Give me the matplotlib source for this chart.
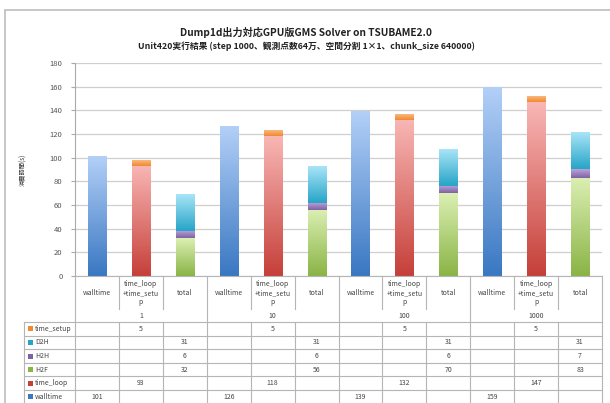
import numpy as np
import matplotlib
matplotlib.use("Agg")
import matplotlib.pyplot as plt
from matplotlib.colors import LinearSegmentedColormap
from matplotlib.transforms import blended_transform_factory
from matplotlib.patches import Rectangle

plt.rcParams['font.family'] = ['Noto Sans CJK JP', 'DejaVu Sans']

# data
groups = ['1', '10', '100', '1000']
categories = ['walltime', 'time_loop\n+time_setu\np', 'total']
walltime = [101, 126, 139, 159]
time_loop = [93, 118, 132, 147]
time_setup = [5, 5, 5, 5]
h2f = [32, 56, 70, 83]
h2h = [6, 6, 6, 7]
d2h = [31, 31, 31, 31]

# (name, values, category index, bottom colour, top colour)
series = [
    ('walltime', walltime, 0, '#3a78c2', '#b2cff7'),
    ('time_loop', time_loop, 1, '#c6403a', '#f8b6b4'),
    ('time_setup', time_setup, 1, '#ee8a30', '#fbb77e'),
    ('H2F', h2f, 2, '#8ab446', '#dbefb2'),
    ('H2H', h2h, 2, '#7f62a6', '#baa4d8'),
    ('D2H', d2h, 2, '#27a5c8', '#a8e4f7'),
]
table_order = ['time_setup', 'D2H', 'H2H', 'H2F', 'time_loop', 'walltime']

W, H = 610, 403
fig = plt.figure(figsize=(W / 100, H / 100), dpi=100)
fig.patch.set_facecolor('white')
ax = fig.add_axes([75 / W, 1 - 276 / H, 527 / W, 213 / H])

ncat = len(categories)
nbars = len(groups) * ncat
bar_w = 0.41

# stacked bars with vertical gradient fill
bottoms = np.zeros(nbars)
for name, vals, ci, c_bot, c_top in series:
    xs = [g * ncat + ci for g in range(len(groups))]
    cmap = LinearSegmentedColormap.from_list(name, [c_bot, c_top])
    grad = np.linspace(0, 1, 64).reshape(-1, 1)
    for x, v in zip(xs, vals):
        b = bottoms[x]
        ax.imshow(grad, cmap=cmap, extent=(x - bar_w / 2, x + bar_w / 2, b, b + v),
                  aspect='auto', origin='lower', zorder=3, interpolation='bilinear')
        bottoms[x] += v

ax.set_xlim(-0.5, nbars - 0.5)
ax.set_ylim(0, 180)
ax.set_yticks(range(0, 181, 20))
ax.tick_params(axis='y', labelsize=5.5, labelcolor='#555555', color='#aaaaaa',
               length=3, width=0.8, pad=6)
ax.set_xticks([])
ax.grid(axis='y', color='#cfcfcf', linewidth=0.9, zorder=0)
for s in ['top', 'right', 'bottom']:
    ax.spines[s].set_visible(False)
ax.spines['left'].set_color('#aaaaaa')
ax.set_ylabel('消費時間(s)', fontsize=4.5, color='#333333', labelpad=16)

# title
fig.text(0.502, 1 - 32 / H, 'Dump1d出力対応GPU版GMS Solver on TSUBAME2.0',
         ha='center', va='center', fontsize=7.3, fontweight='bold', color='#222222')
fig.text(0.502, 1 - 46 / H, 'Unit420実行結果 (step 1000、観測点数64万、空間分割 1×1、chunk_size 640000)',
         ha='center', va='center', fontsize=6.3, fontweight='bold', color='#222222')

# outer chart border
fig.patches.append(Rectangle((5 / W, -0.05), 1.2, 1 - 10 / H + 0.05,
                             transform=fig.transFigure, fill=False,
                             edgecolor='#bdbdbd', linewidth=1.2))

# data table below the axis
tr = blended_transform_factory(ax.transData, fig.transFigure)
line_c = '#b5b5b5'
txt_c = '#444444'


def fy(py):
    return 1 - py / H


def vline(x, y0, y1, transform=tr):
    fig.add_artist(plt.Line2D([x, x], [fy(y0), fy(y1)], transform=transform,
                              color=line_c, linewidth=0.8))


def hline(x0, x1, y, transform=tr):
    fig.add_artist(plt.Line2D([x0, x1], [fy(y), fy(y)], transform=transform,
                              color=line_c, linewidth=0.8))


axis_y = 276
grp_y = 309
row_top = 322
row_h = 13.6
bottom_y = 410

# x axis line
hline(-0.5, nbars - 0.5, axis_y)
# column separators in header
for k in range(nbars + 1):
    is_group = k % ncat == 0
    vline(k - 0.5, axis_y, bottom_y if is_group else grp_y)
    if not is_group:
        vline(k - 0.5, row_top, bottom_y)

# header labels
for g, gl in enumerate(groups):
    for ci, cl in enumerate(categories):
        fig.text(g * ncat + ci, fy(293), cl, transform=tr, ha='center', va='center',
                 fontsize=5, color=txt_c, linespacing=1.25)
    fig.text(g * ncat + (ncat - 1) / 2, fy(316), gl, transform=tr, ha='center',
             va='center', fontsize=5, color=txt_c)

# rows
info = {s[0]: s for s in series}
leg_x0 = 24 / W
for r, name in enumerate(table_order):
    y_top = row_top + r * row_h
    hline(-0.5, nbars - 0.5, y_top)
    hline(leg_x0, 75 / W, y_top, transform=fig.transFigure)
    yc = y_top + row_h / 2
    _, vals, ci, c_bot, c_top = info[name]
    for g, v in enumerate(vals):
        fig.text(g * ncat + ci, fy(yc), str(v), transform=tr, ha='center',
                 va='center', fontsize=5, color=txt_c)
    fig.patches.append(Rectangle((leg_x0 + 4 / W, fy(yc + 2.5)), 5 / W, 5 / H,
                                 transform=fig.transFigure, color=c_bot, linewidth=0))
    fig.text(leg_x0 + 11 / W, fy(yc), name, ha='left', va='center',
             fontsize=5, color=txt_c)
hline(leg_x0, 75 / W, row_top + len(table_order) * row_h, transform=fig.transFigure)
vline(leg_x0, row_top, bottom_y, transform=fig.transFigure)

fig.savefig('out.png', dpi=100)
